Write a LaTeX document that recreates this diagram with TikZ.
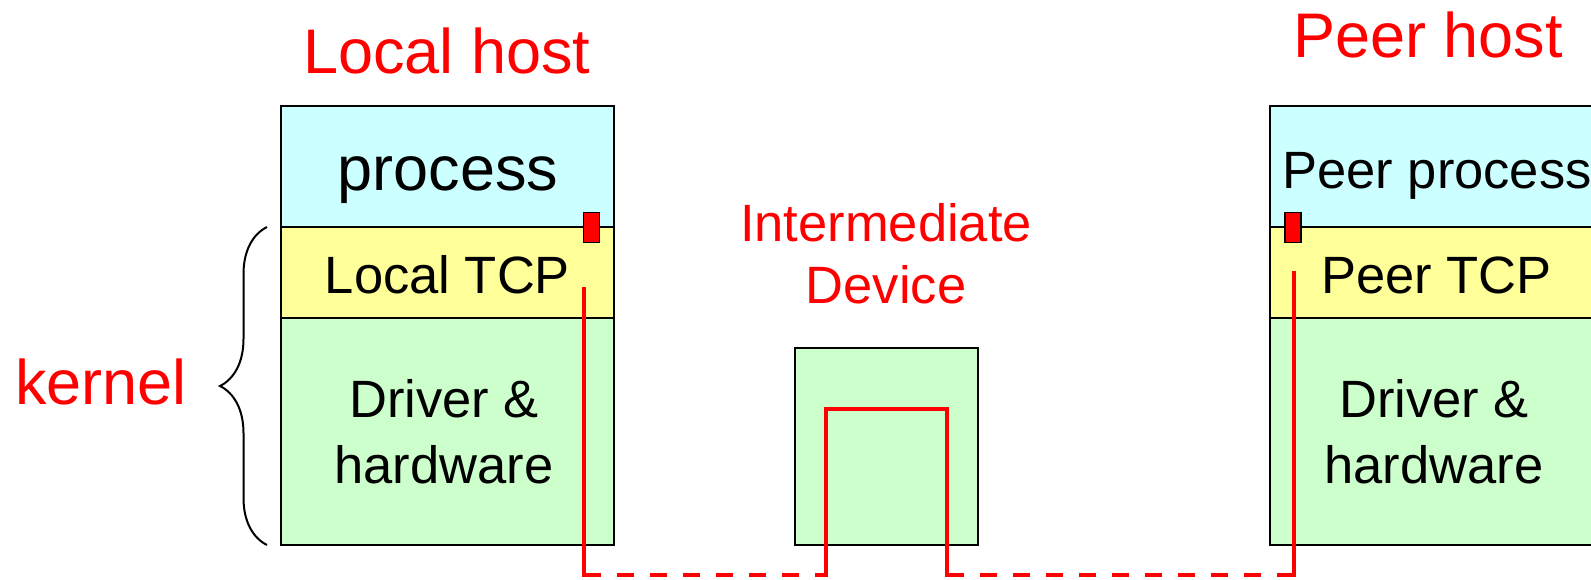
\documentclass[tikz,border=0pt]{standalone}
\usepackage{fontspec}
\setmainfont{Liberation Sans}
\usetikzlibrary{decorations.pathreplacing}

\definecolor{proccyan}{HTML}{CCFFFF}
\definecolor{tcpyellow}{HTML}{FFFF99}
\definecolor{drvgreen}{HTML}{CCFFCC}

\tikzset{
  layer/.style={draw=black, line width=1pt},
  sockbox/.style={draw=black, fill=red, line width=0.75pt},
  hosttitle/.style={text=red, inner sep=0pt, font=\fontsize{31.5}{37.8}\selectfont},
  layertext/.style={inner sep=0pt, font=\fontsize{26.25}{31.5}\selectfont},
  bigtext/.style={inner sep=0pt, font=\fontsize{31.5}{37.8}\selectfont},
  redpath/.style={red, line width=2pt, line cap=rect},
  reddash/.style={red, line width=2pt, dash pattern=on 8.5pt off 8pt}
}

\begin{document}
\begin{tikzpicture}[x=0.5pt,y=-0.5pt]
  \useasboundingbox (0,0) rectangle (1591,579);
  \clip (0,0) rectangle (1591,579);

  % Local host stack
  \filldraw[layer,fill=proccyan]  (281,106) rectangle (614,227);
  \filldraw[layer,fill=tcpyellow] (281,227) rectangle (614,318);
  \filldraw[layer,fill=drvgreen]  (281,318) rectangle (614,545);
  \node[hosttitle,anchor=base] (localhost) at (447,73) {Local host};
  \node[bigtext,anchor=base] (lproc) at (448,190) {process};
  \node[layertext,anchor=base] (ltcp) at (447.5,293) {Local TCP};
  \node[layertext,anchor=base,align=center] (ldrv) at (444,483) {Driver \&\\[1.5pt]hardware};

  % Peer host stack
  \filldraw[layer,fill=proccyan]  (1270,106) rectangle (1603,227);
  \filldraw[layer,fill=tcpyellow] (1270,227) rectangle (1603,318);
  \filldraw[layer,fill=drvgreen]  (1270,318) rectangle (1603,545);
  \node[hosttitle,anchor=base] (peerhost) at (1428,57) {Peer host};
  \node[layertext,anchor=base west] (pproc) at (1282,188) {Peer process};
  \node[layertext,anchor=base] (ptcp) at (1436.5,293) {Peer TCP};
  \node[layertext,anchor=base,align=center] (pdrv) at (1434,483) {Driver \&\\[1.5pt]hardware};

  % Intermediate device
  \filldraw[layer,fill=drvgreen] (795,348) rectangle (978,545);
  \node[layertext,text=red,anchor=base,align=center] (middev) at (886,303) {Intermediate\\[-0.5pt]Device};

  % kernel brace
  \coordinate (kbot) at (267,545);
  \coordinate (ktop) at (267,227);
  \draw[line width=1pt,decorate,decoration={brace,amplitude=23.5pt}] (kbot) -- (ktop);
  \node[hosttitle,anchor=base] (kernel) at (101,404) {kernel};

  % sockets
  \filldraw[sockbox] (583.5,212.5) rectangle (599.5,242.5);
  \filldraw[sockbox] (1285,212.5) rectangle (1301,242.5);

  % connection
  \coordinate (lstart) at (584,289);
  \coordinate (lcorner) at (584,574.5);
  \coordinate (minl) at (825.5,574.5);
  \coordinate (mtopl) at (825.5,409);
  \coordinate (mtopr) at (947,409);
  \coordinate (minr) at (947,574.5);
  \coordinate (rcorner) at (1294,574.5);
  \coordinate (rend) at (1294,273);
  \draw[redpath] (lstart) -- (lcorner);
  \draw[redpath] (minl) -- (mtopl) -- (mtopr) -- (minr);
  \draw[redpath] (rcorner) -- (rend);
  \draw[reddash] (lcorner) -- (minl);
  \draw[reddash] (minr) -- (rcorner);
\end{tikzpicture}
\end{document}
